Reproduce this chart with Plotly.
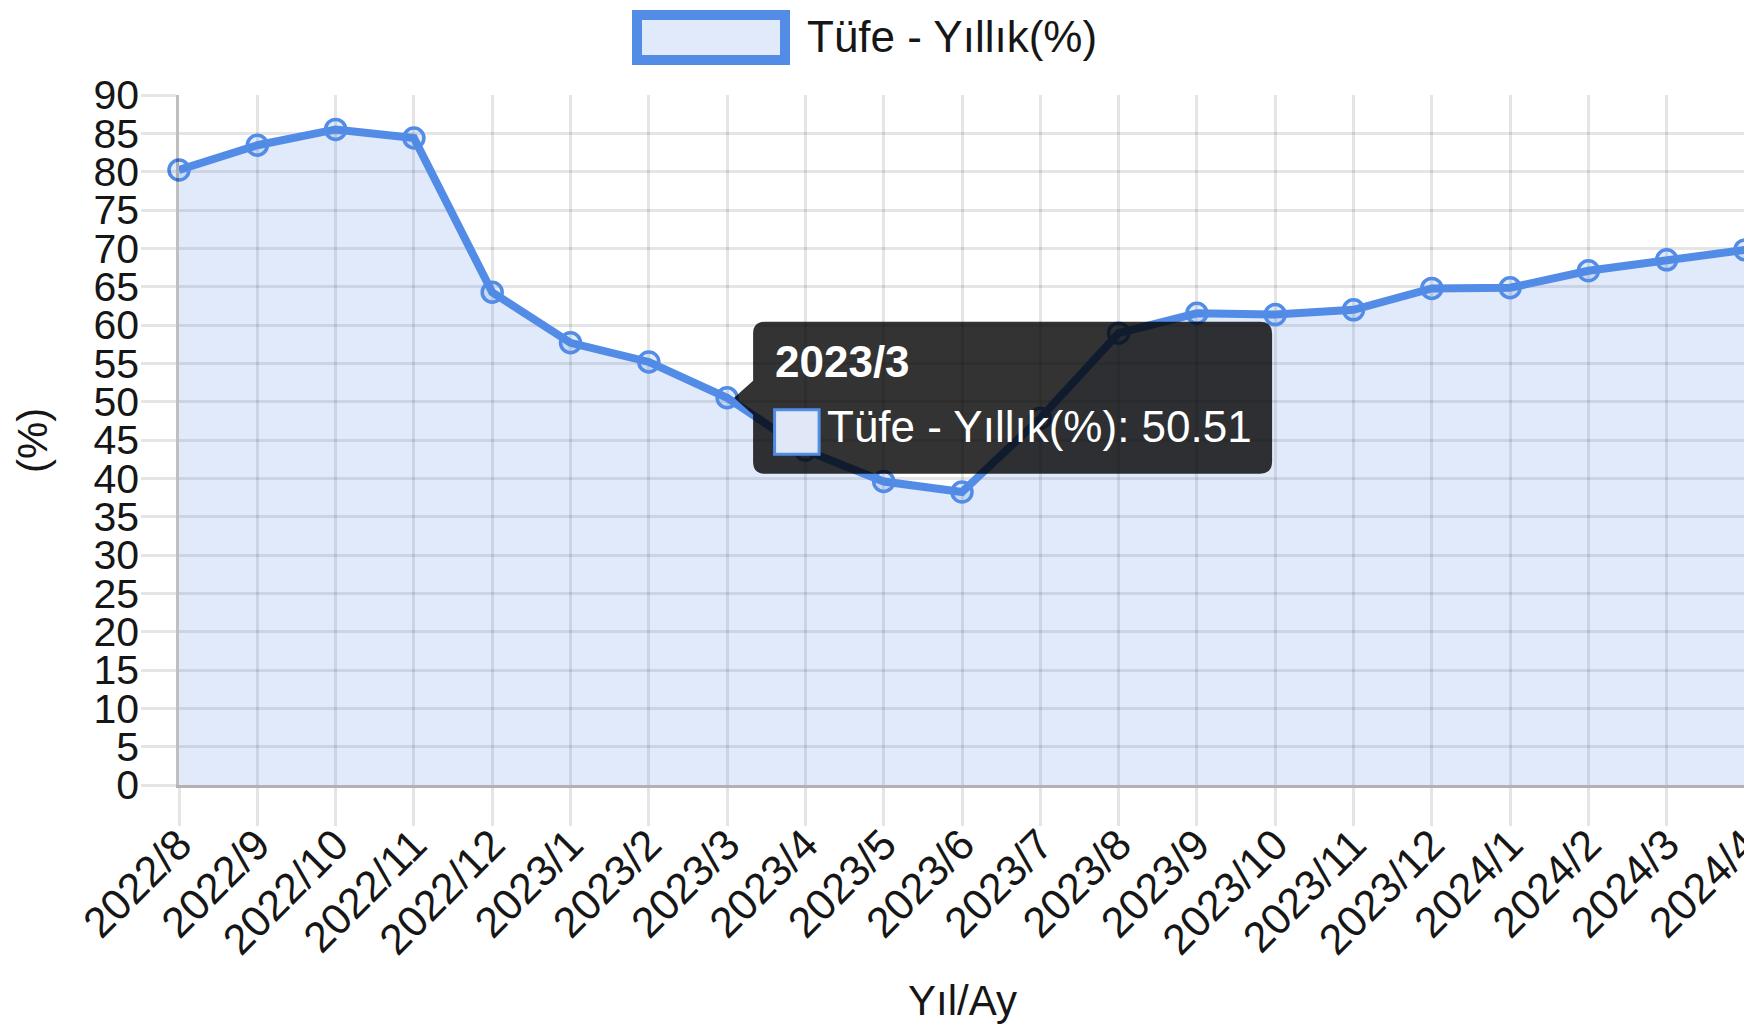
import plotly.graph_objects as go

# ---- data ----
months = ["2022/8", "2022/9", "2022/10", "2022/11", "2022/12",
          "2023/1", "2023/2", "2023/3", "2023/4", "2023/5", "2023/6",
          "2023/7", "2023/8", "2023/9", "2023/10", "2023/11", "2023/12",
          "2024/1", "2024/2", "2024/3", "2024/4"]
tufe_yillik = [80.21, 83.45, 85.51, 84.39, 64.27,
               57.68, 55.18, 50.51, 43.68, 39.59, 38.21,
               47.83, 58.94, 61.53, 61.36, 61.98, 64.77,
               64.86, 67.07, 68.50, 69.80]
series_name = "Tüfe - Yıllık(%)"
y_ticks = list(range(0, 95, 5))
x_title = "Yıl/Ay"
y_title = "(%)"
tooltip_month = "2023/3"

# ---- style ----
OFF = 8  # default page body margin
W, H = 1752 - OFF, 1024 - OFF
L, R, T, B = 179 - OFF, 7, 95 - OFF, 239
PW, PH = W - L - R, H - T - B
LINE = "rgb(82,140,230)"
FILL = "rgba(80,132,225,0.17)"
GRID = "rgba(0,0,0,0.1)"
FONT = "Liberation Sans, Arial, sans-serif"
TXT = "#161616"


def px_x(p):
    return (p - OFF - L) / PW


def px_y(p):
    return (H - B - (p - OFF)) / PH


fig = go.Figure()
fig.add_trace(go.Scatter(
    x=months, y=tufe_yillik, name=series_name,
    mode="lines+markers", fill="tozeroy", fillcolor=FILL,
    line=dict(color=LINE, width=8),
    marker=dict(size=20, color=FILL, line=dict(color=LINE, width=3.5)),
    cliponaxis=False, hoverinfo="skip", showlegend=False,
))

ti = months.index(tooltip_month)
tv = tufe_yillik[ti]

shapes = [
    # legend box
    dict(type="rect", xref="paper", yref="paper",
         x0=px_x(637), x1=px_x(785), y0=px_y(60), y1=px_y(15),
         fillcolor=FILL, line=dict(color=LINE, width=10), layer="above"),
    # tooltip background with caret
    dict(type="path", xref="x", yref="y", xsizemode="pixel", ysizemode="pixel",
         xanchor=tooltip_month, yanchor=tv,
         path=("M 38,76 L 533,76 Q 545,76 545,64 L 545,-64 Q 545,-76 533,-76 "
               "L 38,-76 Q 26,-76 26,-64 L 26,-17 L 7,0 L 26,17 L 26,64 Q 26,76 38,76 Z"),
         fillcolor="rgba(0,0,0,0.8)", line=dict(width=0), layer="above"),
    # tooltip colour square
    dict(type="rect", xref="x", yref="y", xsizemode="pixel", ysizemode="pixel",
         xanchor=tooltip_month, yanchor=tv,
         x0=47.5, x1=92, y0=-12, y1=-56.5,
         fillcolor="rgb(224,232,248)", line=dict(color=LINE, width=3), layer="above"),
]

annotations = [
    dict(text=series_name, xref="paper", yref="paper", x=px_x(805), y=px_y(37),
         xanchor="left", yanchor="middle", showarrow=False,
         font=dict(family=FONT, size=44, color=TXT)),
    dict(text=f"<b>{tooltip_month}</b>", xref="x", yref="y", x=tooltip_month, y=tv,
         xanchor="left", yanchor="middle", xshift=46, yshift=36, showarrow=False,
         font=dict(family=FONT, size=44, color="white")),
    dict(text=f"{series_name}: {tv:.2f}", xref="x", yref="y", x=tooltip_month, y=tv,
         xanchor="left", yanchor="middle", xshift=98, yshift=-29, showarrow=False,
         font=dict(family=FONT, size=44, color="white")),
    dict(text=x_title, xref="paper", yref="paper", x=0.5, y=px_y(1000),
         xanchor="center", yanchor="middle", showarrow=False,
         font=dict(family=FONT, size=42, color=TXT)),
    dict(text=y_title, xref="paper", yref="paper", x=px_x(33), y=px_y(441),
         xanchor="center", yanchor="middle", textangle=-90, showarrow=False,
         font=dict(family=FONT, size=42, color=TXT)),
]

fig.update_layout(
    width=W, height=H,
    margin=dict(l=L, r=R, t=T, b=B, autoexpand=False),
    paper_bgcolor="white", plot_bgcolor="white",
    showlegend=False,
    shapes=shapes, annotations=annotations,
    font=dict(family=FONT, size=42, color=TXT),
    xaxis=dict(
        type="category", range=[0, len(months) - 1],
        showgrid=True, gridcolor=GRID, gridwidth=2.5,
        ticks="outside", ticklen=38, tickcolor=GRID, tickwidth=2.5,
        tickangle=-45, tickfont=dict(family=FONT, size=43, color=TXT),
        ticklabelstandoff=-24,
        showline=True, linecolor="rgba(0,0,0,0.3)", linewidth=3,
        zeroline=False, automargin=False,
    ),
    yaxis=dict(
        range=[0, 90], tickmode="array", tickvals=y_ticks,
        showgrid=True, gridcolor=GRID, gridwidth=2.5,
        ticks="outside", ticklen=35, tickcolor=GRID, tickwidth=2.5,
        tickfont=dict(family=FONT, size=41, color=TXT),
        ticklabelstandoff=-6,
        showline=True, linecolor="rgba(0,0,0,0.25)", linewidth=2.5,
        zeroline=False, automargin=False,
    ),
)

fig.write_html("out.html")
